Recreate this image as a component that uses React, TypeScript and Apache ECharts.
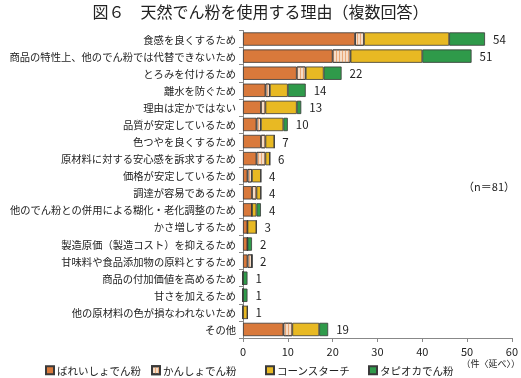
import React, { useEffect, useRef } from "react";
import * as echarts from "echarts";

const categories = [
  "食感を良くするため",
  "商品の特性上、他のでん粉では代替できないため",
  "とろみを付けるため",
  "離水を防ぐため",
  "理由は定かではない",
  "品質が安定しているため",
  "色つやを良くするため",
  "原材料に対する安心感を訴求するため",
  "価格が安定しているため",
  "調達が容易であるため",
  "他のでん粉との併用による糊化・老化調整のため",
  "かさ増しするため",
  "製造原価（製造コスト）を抑えるため",
  "甘味料や食品添加物の原料とするため",
  "商品の付加価値を高めるため",
  "甘さを加えるため",
  "他の原材料の色が損なわれないため",
  "その他",
];

const potato = [25, 20, 12, 5, 4, 3, 4, 3, 1, 2, 2, 1, 1, 1, 0, 0, 0, 9];
const sweetPotato = [2, 4, 2, 1, 1, 1, 1, 2, 1, 1, 0, 0, 0, 1, 0, 0, 0, 2];
const cornStarch = [19, 16, 4, 4, 7, 5, 2, 1, 2, 1, 1, 2, 0, 0, 0, 0, 1, 6];
const tapioca = [8, 11, 4, 4, 1, 1, 0, 0, 0, 0, 1, 0, 1, 0, 1, 1, 0, 2];
const totals = [54, 51, 22, 14, 13, 10, 7, 6, 4, 4, 4, 3, 2, 2, 1, 1, 1, 19];

const seriesNames = ["ばれいしょでん粉", "かんしょでん粉", "コーンスターチ", "タピオカでん粉"];
const xTicks = [0, 10, 20, 30, 40, 50, 60];

const FONT = "'Noto Sans CJK JP', 'Noto Sans', sans-serif";

export default function App() {
  const ref = useRef<HTMLDivElement>(null);
  useEffect(() => {
    if (!ref.current) return;
    const chart = echarts.init(ref.current, null, { renderer: "svg" });
    const border = { borderColor: "#3a3a3a", borderWidth: 0.8 };
    const BW = "78%";
    const mk = (name: string, data: number[], color: string) => ({
      name,
      type: "bar",
      stack: "s",
      data,
      barWidth: BW,
      itemStyle: { color, ...border },
      emphasis: { disabled: true },
    });
    const legendLefts = [45, 151, 265, 368];
    chart.setOption({
      animation: false,
      textStyle: { fontFamily: FONT },
      title: {
        text: "図６　天然でん粉を使用する理由（複数回答）",
        left: "center",
        top: -2,
        textStyle: { fontSize: 16, fontWeight: "normal", color: "#222", fontFamily: FONT },
      },
      grid: { left: 243, right: 7, top: 30.5, bottom: 40, containLabel: false },
      legend: seriesNames.map((n, i) => ({
        data: [n],
        top: 365,
        left: legendLefts[i],
        padding: 0,
        itemWidth: 8,
        itemHeight: 8,
        itemGap: 0,
        icon: "rect",
        textStyle: { fontSize: 10.5, color: "#222", fontFamily: FONT, padding: [0, 0, 0, -2] },
      })),
      xAxis: {
        type: "value",
        min: 0,
        max: 60,
        interval: 10,
        splitLine: { show: false },
        axisLine: { show: true, lineStyle: { color: "#888" } },
        axisTick: { show: true, length: 4, lineStyle: { color: "#888" } },
        axisLabel: { fontSize: 11, color: "#222", margin: 7, formatter: (v: number) => (xTicks.includes(v) ? String(v) : "") },
      },
      yAxis: {
        type: "category",
        data: categories,
        inverse: true,
        axisLine: { show: true, lineStyle: { color: "#888" } },
        axisTick: { show: true, length: 4, lineStyle: { color: "#888" } },
        axisLabel: { fontSize: 10.3, color: "#222", margin: 7 },
      },
      graphic: [
        { type: "text", right: 6, top: 180, style: { text: "（n＝81）", fontSize: 11, fill: "#222", fontFamily: FONT } },
        { type: "text", right: 1, top: 359, style: { text: "（件〈延べ〉）", fontSize: 9, fill: "#222", fontFamily: FONT } },
      ],
      series: [
        mk(seriesNames[0], potato, "#d9793b"),
        {
          ...mk(seriesNames[1], sweetPotato, "#f6dcc6"),
          itemStyle: {
            color: "#f6dcc6",
            ...border,
            decal: {
              symbol: "rect",
              color: "#e9a878",
              dashArrayX: [1, 1.6],
              dashArrayY: [4, 0],
              symbolSize: 1,
              rotation: 0,
            },
          },
        },
        mk(seriesNames[2], cornStarch, "#e8b923"),
        mk(seriesNames[3], tapioca, "#2f9a4a"),
        {
          name: "total",
          type: "bar",
          stack: "s",
          data: totals.map(() => 0),
          barWidth: BW,
          itemStyle: { color: "transparent", borderWidth: 0 },
          emphasis: { disabled: true },
          label: {
            show: true,
            position: "right",
            distance: 8,
            fontSize: 11.5,
            color: "#222",
            fontFamily: FONT,
            formatter: (p: any) => String(totals[p.dataIndex]),
          },
        },
      ],
    });
    return () => chart.dispose();
  }, []);
  return <div ref={ref} style={{ position: "fixed", left: 0, top: 0, width: 521, height: 378 }} />;
}
